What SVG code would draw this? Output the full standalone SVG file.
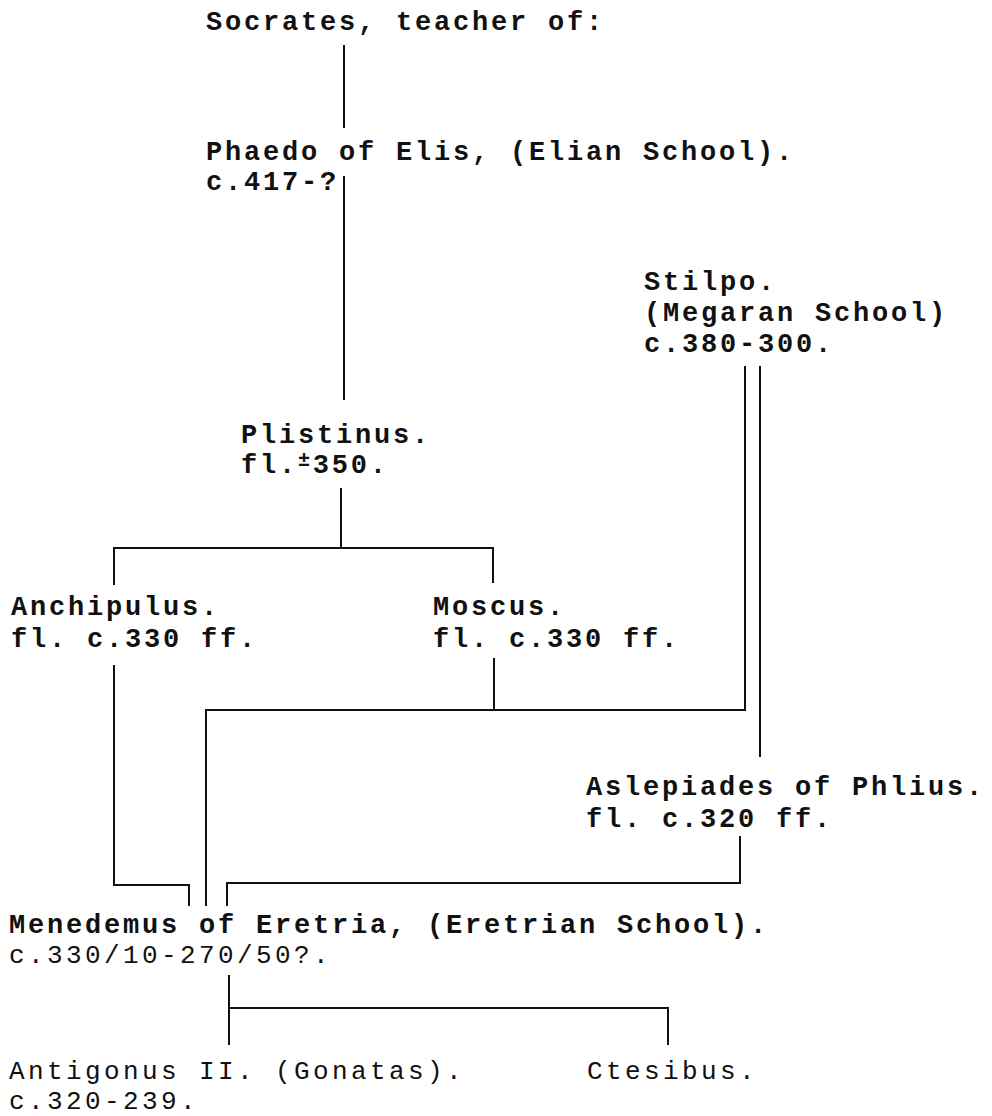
<svg xmlns="http://www.w3.org/2000/svg" width="992" height="1116" viewBox="0 0 992 1116">
<style>
text{font-family:"Liberation Mono","Courier New",monospace;font-size:27px;letter-spacing:2.8px;fill:#111;font-weight:bold}
.lt{font-weight:normal;font-size:26px;letter-spacing:3.4px}
.c{fill:none;stroke:#111;stroke-width:2}
</style>
<rect width="992" height="1116" fill="#fff"/>
<g id="connectors" class="c">
<path d="M344,45V128"/>
<path d="M344,176V400"/>
<path d="M341,488V548"/>
<path d="M114,585V548H493V583"/>
<path d="M114,665V885H189V906"/>
<path d="M494,658V710"/>
<path d="M206,906V710H745V366"/>
<path d="M760,366V757"/>
<path d="M740,836V883H227V906"/>
<path d="M229,975V1045"/>
<path d="M229,1008H668V1045"/>
</g>
<g id="socrates"><text x="206" y="30">Socrates, teacher of:</text></g>
<g id="phaedo"><text x="206" y="160">Phaedo of Elis, (Elian School).</text><text x="206" y="190">c.417-?</text></g>
<g id="stilpo"><text x="644" y="290">Stilpo.</text><text x="644" y="321">(Megaran School)</text><text x="644" y="352">c.380-300.</text></g>
<g id="plistinus"><text x="241" y="443">Plistinus.</text><text x="241" y="473">fl.<tspan font-size="20" dy="-7">±</tspan><tspan dy="7">350.</tspan></text></g>
<g id="anchipulus"><text x="11" y="615">Anchipulus.</text><text x="11" y="647">fl. c.330 ff.</text></g>
<g id="moscus"><text x="433" y="615">Moscus.</text><text x="433" y="647">fl. c.330 ff.</text></g>
<g id="aslepiades"><text x="586" y="795">Aslepiades of Phlius.</text><text x="586" y="827">fl. c.320 ff.</text></g>
<g id="menedemus"><text x="9" y="933">Menedemus of Eretria, (Eretrian School).</text><text class="lt" x="9" y="963">c.330/10-270/50?.</text></g>
<g id="antigonus"><text class="lt" x="9" y="1079">Antigonus II. (Gonatas).</text><text class="lt" x="9" y="1109">c.320-239.</text></g>
<g id="ctesibus"><text class="lt" x="587" y="1079">Ctesibus.</text></g>
</svg>
